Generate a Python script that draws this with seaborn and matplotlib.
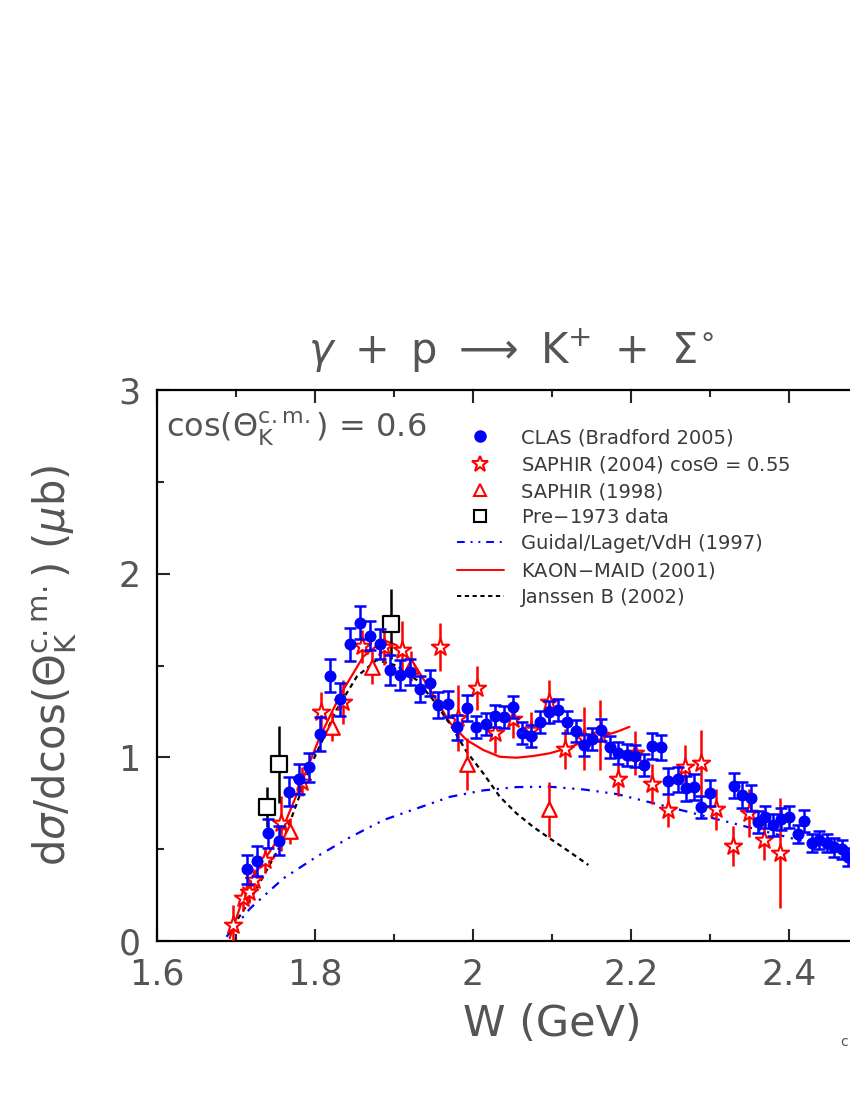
import numpy as np
import pandas as pd
import seaborn as sns
import matplotlib.pyplot as plt
from matplotlib.lines import Line2D
from matplotlib.ticker import MultipleLocator

# CLAS (Bradford 2005)
clas_w = [1.714, 1.726, 1.740, 1.754, 1.767, 1.780, 1.793, 1.806, 1.819, 1.832,
          1.844, 1.857, 1.870, 1.882, 1.895, 1.908, 1.920, 1.933, 1.945, 1.956,
          1.968, 1.980, 1.992, 2.004, 2.016, 2.028, 2.039, 2.051, 2.062, 2.073,
          2.085, 2.096, 2.107, 2.119, 2.130, 2.140, 2.151, 2.162, 2.173, 2.184,
          2.195, 2.205, 2.216, 2.226, 2.238, 2.247, 2.259, 2.269, 2.280, 2.289,
          2.300, 2.331, 2.341, 2.352, 2.361, 2.370, 2.380, 2.390, 2.400, 2.411,
          2.419, 2.429, 2.438, 2.448, 2.457, 2.467, 2.475]
clas_val = [0.390, 0.435, 0.586, 0.546, 0.813, 0.882, 0.946, 1.127, 1.443, 1.316,
            1.615, 1.733, 1.662, 1.617, 1.475, 1.448, 1.463, 1.373, 1.403, 1.285,
            1.292, 1.163, 1.267, 1.163, 1.181, 1.225, 1.218, 1.272, 1.131, 1.118,
            1.194, 1.248, 1.257, 1.190, 1.145, 1.067, 1.100, 1.150, 1.054, 1.025,
            1.012, 1.007, 0.958, 1.061, 1.054, 0.873, 0.880, 0.831, 0.840, 0.731,
            0.804, 0.846, 0.795, 0.777, 0.650, 0.677, 0.632, 0.662, 0.677, 0.582,
            0.653, 0.535, 0.550, 0.535, 0.510, 0.499, 0.459]
clas_err = [0.08, 0.08, 0.08, 0.08, 0.08, 0.08, 0.08, 0.09, 0.09, 0.09,
            0.09, 0.09, 0.08, 0.08, 0.08, 0.08, 0.07, 0.07, 0.07, 0.07,
            0.07, 0.07, 0.07, 0.06, 0.06, 0.06, 0.06, 0.06, 0.06, 0.06,
            0.06, 0.06, 0.06, 0.06, 0.06, 0.06, 0.06, 0.06, 0.06, 0.06,
            0.06, 0.06, 0.06, 0.07, 0.07, 0.07, 0.07, 0.07, 0.07, 0.06,
            0.07, 0.07, 0.07, 0.07, 0.06, 0.06, 0.06, 0.06, 0.06, 0.05,
            0.06, 0.05, 0.05, 0.05, 0.05, 0.05, 0.05]

# SAPHIR (2004), cos = 0.55
sap04_w = [1.696, 1.709, 1.717, 1.723, 1.737, 1.757, 1.783, 1.808, 1.835, 1.860,
           1.887, 1.910, 1.958, 1.981, 2.005, 2.028, 2.051, 2.073, 2.096, 2.117,
           2.140, 2.161, 2.184, 2.205, 2.226, 2.247, 2.268, 2.288, 2.308, 2.329,
           2.349, 2.368, 2.388]
sap04_val = [0.087, 0.232, 0.268, 0.332, 0.441, 0.641, 0.867, 1.248, 1.303, 1.606,
             1.602, 1.584, 1.602, 1.212, 1.376, 1.134, 1.207, 1.149, 1.303, 1.044,
             1.103, 1.121, 0.880, 1.022, 0.855, 0.713, 0.949, 0.971, 0.717, 0.517,
             0.695, 0.550, 0.481]
sap04_err = [0.11, 0.07, 0.06, 0.06, 0.07, 0.15, 0.08, 0.11, 0.12, 0.09,
             0.10, 0.16, 0.13, 0.18, 0.12, 0.11, 0.10, 0.10, 0.12, 0.11,
             0.17, 0.19, 0.09, 0.12, 0.11, 0.09, 0.12, 0.18, 0.11, 0.11,
             0.13, 0.11, 0.30]

# SAPHIR (1998)
sap98_w = [1.768, 1.821, 1.872, 1.922, 1.993, 2.096]
sap98_val = [0.600, 1.167, 1.490, 1.497, 0.964, 0.717]
sap98_err = [0.07, 0.08, 0.09, 0.08, 0.14, 0.15]

# Pre-1973 data
old_w = [1.739, 1.754, 1.896]
old_val = [0.728, 0.962, 1.724]
old_err = [0.11, 0.21, 0.19]

# model curves
maid_w = [1.692, 1.714, 1.754, 1.780, 1.806, 1.832, 1.861, 1.887, 1.903, 1.925,
          1.946, 1.971, 1.992, 2.013, 2.034, 2.055, 2.076, 2.097, 2.119, 2.140,
          2.161, 2.182, 2.198]
maid_val = [0.015, 0.300, 0.560, 0.830, 1.110, 1.340, 1.548, 1.638, 1.611, 1.511,
            1.366, 1.187, 1.094, 1.040, 1.003, 0.998, 1.007, 1.022, 1.049, 1.085,
            1.112, 1.139, 1.166]
janssen_w = [1.690, 1.718, 1.760, 1.794, 1.827, 1.853, 1.878, 1.903, 1.929, 1.950,
             1.971, 1.992, 2.013, 2.034, 2.055, 2.076, 2.097, 2.119, 2.146]
janssen_val = [0.040, 0.223, 0.550, 0.950, 1.257, 1.440, 1.530, 1.500, 1.420, 1.310,
               1.180, 1.030, 0.913, 0.785, 0.695, 0.622, 0.559, 0.495, 0.414]
guidal_w = [1.688, 1.718, 1.760, 1.802, 1.844, 1.887, 1.929, 1.971, 2.013, 2.055,
            2.097, 2.140, 2.182, 2.224, 2.266, 2.308, 2.350, 2.392, 2.434, 2.476, 2.520]
guidal_val = [0.023, 0.178, 0.341, 0.459, 0.564, 0.659, 0.722, 0.785, 0.820, 0.838,
              0.840, 0.825, 0.800, 0.755, 0.710, 0.664, 0.618, 0.572, 0.525, 0.480, 0.430]

legend_labels = ['CLAS (Bradford 2005)', r'SAPHIR (2004) cos$\Theta$ = 0.55',
                 'SAPHIR (1998)', 'Pre$-$1973 data', 'Guidal/Laget/VdH (1997)',
                 'KAON$-$MAID (2001)', 'Janssen B (2002)']

sns.set_style('ticks')
plt.rcParams['font.family'] = ['DejaVu Sans']
plt.rcParams['mathtext.fontset'] = 'dejavusans'
txt = '#555555'
blue = '#0000ff'
red = '#ff0000'

fig = plt.figure(figsize=(8.5, 11), dpi=100)
ax = fig.add_axes([157 / 850, 1 - 941 / 1100, 790 / 850, 551 / 1100])

# model curves
sns.lineplot(x=guidal_w, y=guidal_val, ax=ax, color=blue, lw=1.6,
             linestyle=(0, (4, 3, 1, 3, 1, 3)), zorder=2)
sns.lineplot(x=maid_w, y=maid_val, ax=ax, color=red, lw=1.6, zorder=2)
sns.lineplot(x=janssen_w, y=janssen_val, ax=ax, color='black', lw=1.6,
             linestyle=(0, (2.2, 1.8)), zorder=2)

# data
ax.errorbar(sap04_w, sap04_val, yerr=sap04_err, fmt='none', ecolor=red,
            elinewidth=1.8, capsize=0, zorder=3)
sns.scatterplot(x=sap04_w, y=sap04_val, ax=ax, marker='*', s=170,
                facecolor='white', edgecolor=red, linewidth=1.5, zorder=4)
ax.errorbar(sap98_w, sap98_val, yerr=sap98_err, fmt='none', ecolor=red,
            elinewidth=1.8, capsize=0, zorder=3)
sns.scatterplot(x=sap98_w, y=sap98_val, ax=ax, marker='^', s=110,
                facecolor='white', edgecolor=red, linewidth=1.6, zorder=4)
ax.errorbar(old_w, old_val, yerr=old_err, fmt='none', ecolor='black',
            elinewidth=1.8, capsize=0, zorder=3)
sns.scatterplot(x=old_w, y=old_val, ax=ax, marker='s', s=120,
                facecolor='white', edgecolor='black', linewidth=1.6, zorder=4)
ax.errorbar(clas_w, clas_val, yerr=clas_err, fmt='none', ecolor=blue,
            elinewidth=1.8, capsize=4.5, capthick=1.8, zorder=5)
sns.scatterplot(x=clas_w, y=clas_val, ax=ax, marker='o', s=75,
                color=blue, edgecolor=blue, linewidth=0, zorder=6)

ax.set_xlim(1.6, 2.6)
ax.set_ylim(0, 3)
ax.xaxis.set_minor_locator(MultipleLocator(0.1))
ax.yaxis.set_minor_locator(MultipleLocator(0.5))
ax.set_xticks([1.6, 1.8, 2.0, 2.2, 2.4, 2.6])
ax.set_xticklabels(['1.6', '1.8', '2', '2.2', '2.4', ''])
ax.set_yticks([0, 1, 2, 3])
ax.set_yticklabels(['0', '1', '2', '3'])
ax.tick_params(which='both', direction='in', top=True, right=True,
               width=1.5, labelsize=25, labelcolor=txt, pad=12)
ax.tick_params(which='major', length=9)
ax.tick_params(which='minor', length=5)
for s in ax.spines.values():
    s.set_linewidth(1.6)
    s.set_color('black')

ax.set_xlabel('W (GeV)', fontsize=31, color=txt, labelpad=8)
ax.set_ylabel(r'd$\sigma$/dcos($\Theta_{\rm K}^{\rm c.m.}$) ($\mu$b)',
              fontsize=30, color=txt, labelpad=28)

ax.text(0.012, 0.915, r'cos($\Theta_{\rm K}^{\rm c.m.}$) = 0.6',
        transform=ax.transAxes, fontsize=23, color=txt)

handles = [
    Line2D([], [], ls='none', marker='o', ms=8, color=blue),
    Line2D([], [], ls='none', marker='*', ms=12, mfc='white', mec=red, mew=1.5),
    Line2D([], [], ls='none', marker='^', ms=9, mfc='white', mec=red, mew=1.5),
    Line2D([], [], ls='none', marker='s', ms=9, mfc='white', mec='black', mew=1.5),
    Line2D([], [], color=blue, lw=1.4, ls=(0, (4, 3, 1, 3, 1, 3))),
    Line2D([], [], color=red, lw=1.4),
    Line2D([], [], color='black', lw=1.4, ls=(0, (2.2, 1.8))),
]
leg = ax.legend(handles, legend_labels, loc='upper left',
                bbox_to_anchor=(0.37, 0.945), frameon=False, fontsize=14,
                handlelength=2.4, handletextpad=0.9, labelspacing=0.36,
                borderaxespad=0)
for t in leg.get_texts():
    t.set_color('#3a3a3a')

fig.text(511 / 850, 1 - 363 / 1100,
         r'$\gamma\ +\ \mathrm{p}\ \longrightarrow\ \mathrm{K}^{+}\ +\ \Sigma^{\circ}$',
         fontsize=30, color=txt, ha='center', va='baseline')
fig.text(0.988, 1 - 1042 / 1100, 'c', fontsize=10, color=txt,
         ha='left', va='center')

fig.savefig('out.png', dpi=100)
